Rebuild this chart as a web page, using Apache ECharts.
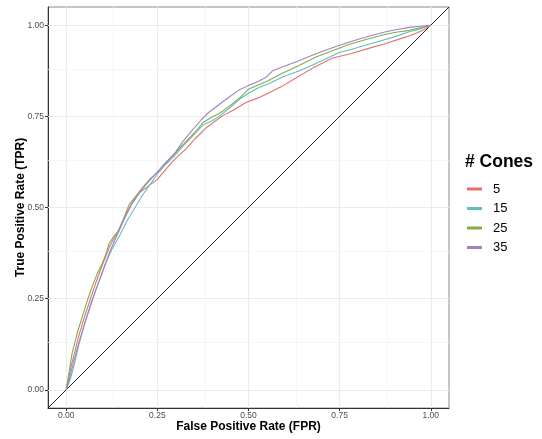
<!DOCTYPE html>
<html>
<head>
<meta charset="utf-8">
<script src="https://cdn.jsdelivr.net/npm/echarts@6/dist/echarts.min.js"></script>
<style>
  html, body { margin: 0; padding: 0; background: #fff; }
  #main { width: 542px; height: 439px; }
</style>
</head>
<body>
<div id="main"></div>
<script>
// ROC curves, one per number of cones: [FPR, TPR]
var seriesNames = ['5', '15', '25', '35'];
var seriesColors = ['#e0716b', '#5fbec4', '#84ad47', '#a481c4'];

var roc5 = [[0,0],[0.01,0.05],[0.02,0.09],[0.035,0.15],[0.05,0.2],[0.065,0.245],[0.08,0.29],[0.1,0.345],
  [0.12,0.395],[0.14,0.43],[0.16,0.475],[0.18,0.51],[0.2,0.54],[0.227,0.56],[0.25,0.577],[0.282,0.615],
  [0.3,0.635],[0.328,0.66],[0.355,0.69],[0.383,0.718],[0.41,0.738],[0.43,0.752],[0.46,0.768],[0.493,0.788],
  [0.525,0.8],[0.557,0.815],[0.593,0.833],[0.63,0.855],[0.68,0.885],[0.731,0.91],[0.78,0.922],[0.841,0.94],
  [0.87,0.948],[0.932,0.968],[0.965,0.98],[0.987,0.991],[1,1]];

var roc15 = [[0,0],[0.01,0.025],[0.021,0.064],[0.035,0.125],[0.053,0.19],[0.067,0.235],[0.081,0.274],
  [0.095,0.31],[0.108,0.347],[0.125,0.385],[0.145,0.42],[0.165,0.46],[0.19,0.502],[0.21,0.535],[0.232,0.566],
  [0.25,0.592],[0.275,0.62],[0.3,0.645],[0.319,0.667],[0.35,0.7],[0.375,0.726],[0.4,0.738],[0.42,0.75],
  [0.45,0.775],[0.475,0.797],[0.502,0.815],[0.53,0.83],[0.557,0.84],[0.593,0.858],[0.64,0.875],[0.685,0.895],
  [0.749,0.925],[0.777,0.932],[0.82,0.945],[0.868,0.959],[0.9,0.968],[0.941,0.982],[0.97,0.99],[1,1]];

var roc25 = [[0,0],[0.008,0.05],[0.016,0.1],[0.03,0.155],[0.044,0.2],[0.058,0.245],[0.071,0.283],
  [0.085,0.318],[0.099,0.347],[0.11,0.375],[0.117,0.4],[0.13,0.42],[0.145,0.438],[0.158,0.47],[0.172,0.507],
  [0.19,0.53],[0.21,0.555],[0.227,0.575],[0.25,0.597],[0.275,0.625],[0.3,0.65],[0.319,0.671],[0.35,0.703],
  [0.375,0.733],[0.4,0.748],[0.42,0.758],[0.45,0.78],[0.475,0.8],[0.502,0.826],[0.548,0.845],[0.593,0.868],
  [0.64,0.89],[0.685,0.913],[0.73,0.93],[0.777,0.948],[0.82,0.96],[0.868,0.973],[0.9,0.98],[0.941,0.986],
  [0.97,0.993],[1,1]];

var roc35 = [[0,0],[0.01,0.035],[0.02,0.075],[0.035,0.13],[0.05,0.18],[0.065,0.225],[0.08,0.27],[0.1,0.325],
  [0.12,0.38],[0.14,0.425],[0.16,0.47],[0.18,0.51],[0.2,0.54],[0.225,0.57],[0.25,0.597],[0.275,0.625],
  [0.3,0.652],[0.319,0.68],[0.346,0.712],[0.37,0.74],[0.392,0.762],[0.41,0.775],[0.429,0.79],[0.45,0.805],
  [0.474,0.822],[0.5,0.835],[0.525,0.845],[0.548,0.857],[0.566,0.875],[0.6,0.888],[0.64,0.903],[0.685,0.922],
  [0.73,0.938],[0.777,0.954],[0.82,0.967],[0.868,0.98],[0.9,0.987],[0.941,0.994],[0.97,0.997],[1,1]];

var rocData = [roc5, roc15, roc25, roc35];

var majorTicks = [0, 0.25, 0.5, 0.75, 1];
var minorTicks = [0.125, 0.375, 0.625, 0.875];
var chance = [[-0.05, -0.05], [1.05, 1.05]];

var font = "'Liberation Sans', Arial, sans-serif";

var myChart = echarts.init(document.getElementById('main'));

// grid lines drawn as markLines so they sit at ggplot's break positions
var gridLines = [];
majorTicks.forEach(function (v) {
    gridLines.push({ xAxis: v, lineStyle: { color: '#ebebeb', width: 1.1, type: 'solid' } });
    gridLines.push({ yAxis: v, lineStyle: { color: '#ebebeb', width: 1.1, type: 'solid' } });
});
minorTicks.forEach(function (v) {
    gridLines.push({ xAxis: v, lineStyle: { color: '#f3f3f3', width: 0.8, type: 'solid' } });
    gridLines.push({ yAxis: v, lineStyle: { color: '#f3f3f3', width: 0.8, type: 'solid' } });
});

var series = [{
    type: 'line',
    data: [],
    silent: true,
    z: 1,
    markLine: {
        silent: true,
        z: 1,
        symbol: ['none', 'none'],
        label: { show: false },
        emphasis: { disabled: true },
        animation: false,
        lineStyle: { type: 'solid' },
        data: gridLines
    }
}, {
    name: 'chance',
    type: 'line',
    data: chance,
    symbol: 'none',
    silent: true,
    lineStyle: { color: '#222', width: 1, type: 'solid' },
    z: 6
}];

seriesNames.forEach(function (name, i) {
    series.push({
        name: name,
        type: 'line',
        data: rocData[i],
        symbol: 'none',
        color: seriesColors[i],
        lineStyle: { width: 1.1 },
        z: 7
    });
});

var axisCommon = function (nameText) {
    return {
        type: 'value',
        min: -0.05,
        max: 1.05,
        name: nameText,
        nameLocation: 'middle',
        nameMoveOverlap: false,
        nameTextStyle: { fontFamily: font, fontWeight: 'bold', fontSize: 12, color: '#000' },
        axisLine: { show: true, onZero: false, lineStyle: { color: '#333', width: 1 } },
        axisTick: { show: true, length: 3, customValues: majorTicks, lineStyle: { color: '#333' } },
        axisLabel: {
            customValues: majorTicks,
            fontFamily: font,
            fontSize: 8.5,
            color: '#4d4d4d',
            formatter: function (v) { return v.toFixed(2); }
        },
        splitLine: { show: false }
    };
};

var xAxis = axisCommon('False Positive Rate (FPR)');
xAxis.nameGap = 13;
xAxis.axisLabel.margin = 3;
var yAxis = axisCommon('True Positive Rate (TPR)');
yAxis.nameGap = 21;
yAxis.axisLabel.margin = 4;

var option = {
    animation: false,
    grid: {
        left: 48, top: 7, right: 93, bottom: 31,
        outerBoundsMode: 'none',
        containLabel: false,
        show: true, borderColor: '#8a8a8a', borderWidth: 1, backgroundColor: '#fff'
    },
    xAxis: xAxis,
    yAxis: yAxis,
    title: {
        text: '# Cones',
        left: 460,
        top: 148,
        textStyle: { fontFamily: font, fontWeight: 'bold', fontSize: 17.5, color: '#000' }
    },
    legend: {
        orient: 'vertical',
        left: 462,
        top: 177,
        data: seriesNames,
        icon: 'rect',
        itemWidth: 15,
        itemHeight: 3,
        itemGap: 5.5,
        textStyle: { fontFamily: font, fontSize: 13, color: '#000', lineHeight: 14, padding: [0, 0, 0, 6] }
    },
    series: series
};

myChart.setOption(option);
</script>
</body>
</html>
